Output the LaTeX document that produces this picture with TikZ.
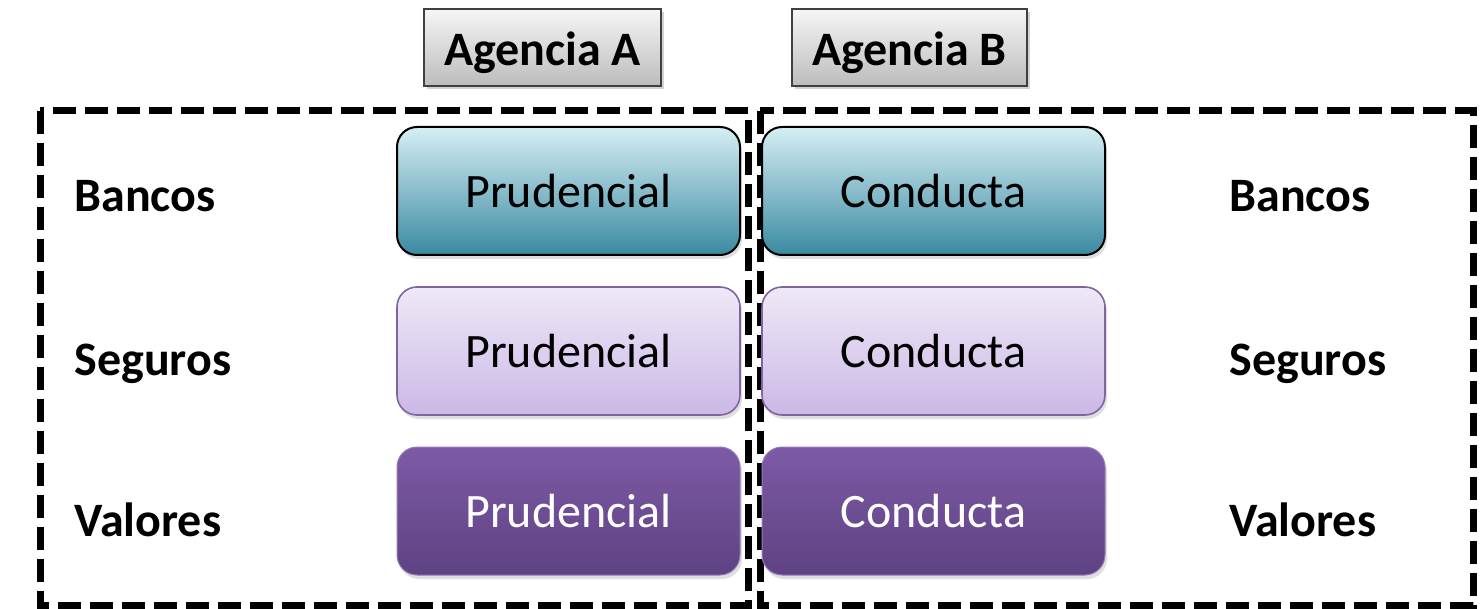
\documentclass[tikz,border=0pt]{standalone}
\usepackage{fontspec}
\setmainfont{Carlito}
\usetikzlibrary{shadows}
\definecolor{bnkT}{RGB}{214,238,244}
\definecolor{bnkM}{RGB}{150,208,222}
\definecolor{bnkB}{RGB}{58,138,162}
\definecolor{segT}{RGB}{238,233,247}
\definecolor{segB}{RGB}{203,184,230}
\definecolor{segD}{RGB}{128,100,162}
\definecolor{valT}{RGB}{125,90,166}
\definecolor{valB}{RGB}{94,66,130}
\definecolor{agT}{RGB}{246,246,246}
\definecolor{agB}{RGB}{188,188,188}
\tikzset{
  every node/.style={font=\fontsize{24pt}{28pt}\selectfont},
  agbox/.style={draw=black!75, line width=0.8pt, top color=agT, bottom color=agB,
    minimum height=38.5pt, inner sep=0pt, text height=18pt, text depth=0pt,
    font=\fontsize{24pt}{28pt}\selectfont\bfseries,
    drop shadow={shadow xshift=1.5pt, shadow yshift=-1.5pt, opacity=0.35}},
  rbox/.style={rounded corners=10pt, minimum width=171.5pt, minimum height=64pt, inner sep=0pt,
    drop shadow={shadow xshift=1pt, shadow yshift=-2pt, opacity=0.25}},
  bnk/.style={rbox, draw=black, line width=1pt, top color=bnkT, middle color=bnkM, bottom color=bnkB},
  seg/.style={rbox, draw=segD, line width=0.8pt, top color=segT, bottom color=segB},
  val/.style={rbox, draw=valT!80!white, line width=0.5pt, top color=valT, bottom color=valB, text=white},
  lab/.style={anchor=base west, inner sep=0pt, font=\fontsize{24pt}{28pt}\selectfont\bfseries},
  dashbox/.style={draw=black, line width=3.5pt, dash pattern=on 11.5pt off 4.5pt}
}
\begin{document}
\begin{tikzpicture}[x=0.5pt,y=-0.5pt]
\useasboundingbox (0,0) rectangle (1484,609);
% dashed frames
\draw[dashbox] (40,111) rectangle (748,605);
\draw[dashbox] (760,111) rectangle (1473,605);
% agency headers
\node[agbox, minimum width=118.5pt] (agA) at (542.5,47.5) {Agencia A};
\node[agbox, minimum width=117.5pt] (agB) at (909.5,47.5) {Agencia B};
% boxes
\node[bnk] (pb) at (568.5,191) {Prudencial};
\node[bnk] (cb) at (933.5,191) {Conducta};
\node[seg] (ps) at (568.5,351) {Prudencial};
\node[seg] (cs) at (933.5,351) {Conducta};
\node[val] (pv) at (568.5,511) {Prudencial};
\node[val] (cv) at (933.5,511) {Conducta};
% labels
\node[lab] (lb) at (74,212) {Bancos};
\node[lab] (ls) at (74,376) {Seguros};
\node[lab] (lv) at (74,536) {Valores};
\node[lab] (rb) at (1229,212) {Bancos};
\node[lab] (rs) at (1229,376) {Seguros};
\node[lab] (rv) at (1229,536) {Valores};
\end{tikzpicture}
\end{document}
